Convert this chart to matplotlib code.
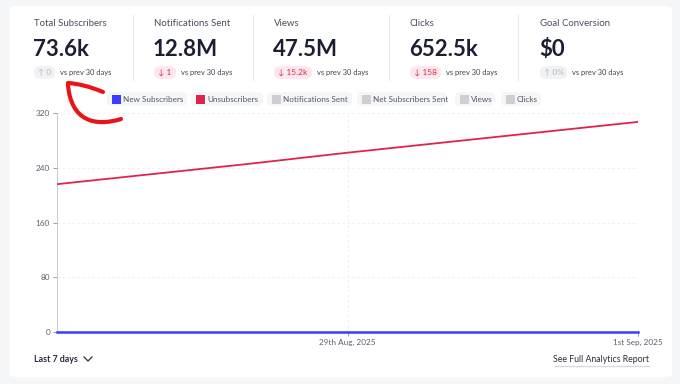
import matplotlib
matplotlib.use("Agg")
import matplotlib.pyplot as plt
import pandas as pd
from matplotlib.patches import FancyBboxPatch, PathPatch, Rectangle
from matplotlib.path import Path
from matplotlib.lines import Line2D

plt.rcParams["font.family"] = ["Lato", "DejaVu Sans"]

# --- data ---
days = ["2025-08-26", "2025-08-27", "2025-08-28", "2025-08-29",
        "2025-08-30", "2025-08-31", "2025-09-01"]
new_subscribers = [0, 0, 0, 0, 0, 0, 0]
unsubscribers = [216, 231, 246, 262, 277, 292, 307]
y_ticks = [0, 80, 160, 240, 320]
x_tick_days = ["2025-08-29", "2025-09-01"]
x_tick_labels = ["29th Aug, 2025", "1st Sep, 2025"]

stat_titles = ["Total Subscribers", "Notifications Sent", "Views", "Clicks", "Goal Conversion"]
stat_values = ["73.6k", "12.8M", "47.5M", "652.5k", "$0"]
stat_changes = ["↑ 0", "↓ 1", "↓ 15.2k", "↓ 158", "↑ 0%"]
stat_down = [False, True, True, True, False]
legend_labels = ["New Subscribers", "Unsubscribers", "Notifications Sent",
                 "Net Subscribers Sent", "Views", "Clicks"]

W, H = 680, 384
BLUE = "#3a3dff"
RED = "#e0234e"
NAVY = "#1c1f33"
GREY_TXT = "#5c5f6e"

fig = plt.figure(figsize=(W / 100, H / 100), dpi=100)
fig.patch.set_facecolor("#f5f6f8")


def fx(x):
    return x / W


def fy(y):
    return 1 - y / H


# white card
fig.patches.append(FancyBboxPatch((fx(10), fy(377)), fx(662), (377 - 6) / H,
                                  boxstyle="round,pad=0,rounding_size=0.008",
                                  transform=fig.transFigure, facecolor="white",
                                  edgecolor="none", zorder=-5))

# stat blocks
stat_x = [34, 154, 274, 410, 540]
badge_w = [21, 22, 38, 31, 27]
for i, (x, title, val, chg, down) in enumerate(zip(stat_x, stat_titles, stat_values,
                                                    stat_changes, stat_down)):
    fig.text(fx(x), fy(22), title, fontsize=6.9, color="#4a4d5c", va="center_baseline")
    fig.text(fx(x - 1), fy(47), val, fontsize=16, fontweight="bold", color=NAVY,
             va="center_baseline")
    bg = "#fde9ed" if down else "#f1f2f4"
    fg = RED if down else "#b5b7bf"
    fig.patches.append(FancyBboxPatch((fx(x), fy(79)), fx(badge_w[i]), 13 / H,
                                      boxstyle="round,pad=0,rounding_size=0.012",
                                      transform=fig.transFigure, facecolor=bg,
                                      edgecolor="none"))
    fig.text(fx(x + badge_w[i] / 2), fy(72.5), chg, fontsize=6, color=fg,
             ha="center", va="center")
    fig.text(fx(x + badge_w[i] + 5), fy(72.5), "vs prev 30 days", fontsize=5.4,
             color="#3f4250", va="center")
for dx in [133, 253, 389, 518]:
    fig.add_artist(Line2D([fx(dx), fx(dx)], [fy(15), fy(80)], color="#e8e9ee",
                          lw=0.8, transform=fig.transFigure))

# legend pills
leg_x = [107, 191, 267, 357, 455, 501]
leg_w = [80, 72, 85, 90, 40, 40]
leg_col = [BLUE, RED, "#cfcfd2", "#cfcfd2", "#cfcfd2", "#cfcfd2"]
for x, w, c, lab in zip(leg_x, leg_w, leg_col, legend_labels):
    fig.patches.append(FancyBboxPatch((fx(x), fy(106)), fx(w), 14 / H,
                                      boxstyle="round,pad=0,rounding_size=0.01",
                                      transform=fig.transFigure, facecolor="#f5f6f8",
                                      edgecolor="none"))
    fig.patches.append(Rectangle((fx(x + 5), fy(103.5)), fx(9), 9 / H,
                                 transform=fig.transFigure, facecolor=c, edgecolor="none"))
    fig.text(fx(x + 16), fy(99), lab, fontsize=5.9, color="#555868", va="center")

# chart
ax = fig.add_axes([fx(57), fy(332), fx(638 - 57), (332 - 113) / H])
dates = pd.to_datetime(days)
ax.plot(dates, unsubscribers, color=RED, lw=1.3, zorder=3)
ax.plot(dates, new_subscribers, color=BLUE, lw=1.8, zorder=4, clip_on=False)
ax.set_xlim(dates[0], dates[-1])
ax.set_ylim(0, 320)
ax.set_yticks(y_ticks)
ax.set_yticklabels([str(v) for v in y_ticks])
ax.set_xticks(pd.to_datetime(x_tick_days))
ax.set_xticklabels(x_tick_labels)
ax.tick_params(axis="both", labelsize=5.9, colors="#8a8c98", labelcolor=GREY_TXT,
               length=3, width=0.6, pad=2)
ax.grid(True, color="#ececf0", lw=0.6, ls=(0, (3, 3)))
for s in ["top", "right"]:
    ax.spines[s].set_visible(False)
ax.spines["left"].set_color("#c9cad3")
ax.spines["left"].set_linewidth(0.7)
ax.spines["bottom"].set_color("#c9cad3")
ax.spines["bottom"].set_linewidth(0.7)
ax.set_facecolor("none")

# hand-drawn arrow
verts = [(fx(121), fy(119)), (fx(95), fy(127)), (fx(71), fy(121)), (fx(68), fy(85))]
arrow = Path(verts, [Path.MOVETO, Path.CURVE4, Path.CURVE4, Path.CURVE4])
fig.patches.append(PathPatch(arrow, transform=fig.transFigure, facecolor="none",
                             edgecolor="#e81419", lw=3, capstyle="round"))
head = Path([(fx(103), fy(92)), (fx(84), fy(84)), (fx(68), fy(83))],
            [Path.MOVETO, Path.CURVE3, Path.CURVE3])
fig.patches.append(PathPatch(head, transform=fig.transFigure, facecolor="none",
                             edgecolor="#e81419", lw=3, capstyle="round"))

# footer
fig.text(fx(34), fy(359), "Last 7 days", fontsize=6.4, fontweight="bold", color="#2a2d3c",
         va="center")
fig.add_artist(Line2D([fx(84), fx(88), fx(92)], [fy(357), fy(361), fy(357)],
                      color="#2a2d3c", lw=0.9, transform=fig.transFigure))
fig.text(fx(649), fy(359), "See Full Analytics Report", fontsize=6.3, color="#2a2d3c",
         ha="right", va="center")
fig.add_artist(Line2D([fx(555), fx(649)], [fy(366), fy(366)], color="#d8d9de",
                      lw=1, transform=fig.transFigure))

fig.savefig("out.png", dpi=100, facecolor=fig.get_facecolor())
